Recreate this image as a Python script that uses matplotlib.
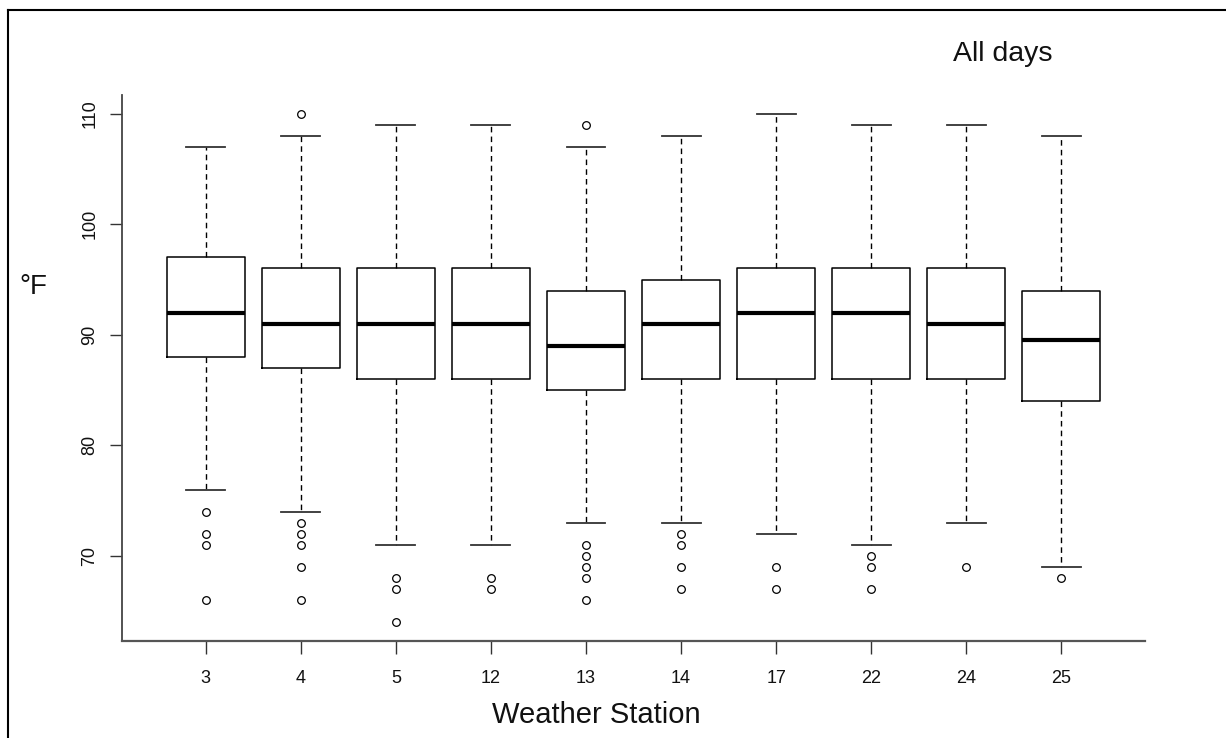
import matplotlib
matplotlib.use('Agg')
import matplotlib.pyplot as plt
from matplotlib.lines import Line2D

plt.rcParams['font.family'] = ['Liberation Sans', 'DejaVu Sans']

stations = ['3', '4', '5', '12', '13', '14', '17', '22', '24', '25']
whislo = [76, 74, 71, 71, 73, 73, 72, 71, 73, 69]
q1 = [88, 87, 86, 86, 85, 86, 86, 86, 86, 84]
med = [92, 91, 91, 91, 89, 91, 92, 92, 91, 89.5]
q3 = [97, 96, 96, 96, 94, 95, 96, 96, 96, 94]
whishi = [107, 108, 109, 109, 107, 108, 110, 109, 109, 108]
fliers = [
    [74, 72, 71, 66],
    [110, 73, 72, 71, 69, 66],
    [68, 67, 64],
    [68, 67],
    [109, 71, 70, 69, 68, 66],
    [72, 71, 69, 67],
    [69, 67],
    [70, 69, 67],
    [69],
    [68],
]

stats = []
for i in range(len(stations)):
    stats.append(dict(label=stations[i], whislo=whislo[i], q1=q1[i], med=med[i],
                      q3=q3[i], whishi=whishi[i], fliers=fliers[i]))

fig = plt.figure(figsize=(12.26, 7.38), dpi=100)
ax = fig.add_axes([0.0995, 0.1314, 0.8345, 0.74])

ax.bxp(stats, positions=range(1, 11), widths=0.82,
       boxprops=dict(color='black', linewidth=1.1),
       medianprops=dict(color='black', linewidth=3),
       whiskerprops=dict(color='black', linewidth=1, linestyle=(0, (4, 3))),
       capprops=dict(color='#333333', linewidth=1.3),
       capwidths=0.41,
       flierprops=dict(marker='o', markerfacecolor='none', markeredgecolor='black',
                       markersize=5.5, markeredgewidth=0.9))

ax.set_xlim(0.12, 10.88)
ax.set_ylim(62.3, 111.7)
ax.set_yticks([70, 80, 90, 100, 110])
ax.set_yticklabels(['70', '80', '90', '100', '110'], rotation=90, va='center')
ax.set_xticks(range(1, 11))
ax.set_xticklabels(stations)
ax.tick_params(axis='both', labelsize=13, length=9, width=1, color='#333333',
               labelcolor='#111111')
ax.tick_params(axis='y', pad=8)
ax.tick_params(axis='x', pad=12)

ax.spines['top'].set_visible(False)
ax.spines['right'].set_visible(False)
ax.spines['left'].set_color('#444444')
ax.spines['bottom'].set_color('#555555')
ax.spines['left'].set_linewidth(1.3)
ax.spines['bottom'].set_linewidth(1.6)

fig.text(596 / 1226, 1 - 715 / 738, 'Weather Station', fontsize=21,
         ha='center', va='center', color='#111111')
fig.text(33 / 1226, 1 - 287 / 738, '°F', fontsize=20,
         ha='center', va='center', color='#111111')
fig.text(1003 / 1226, 1 - 54 / 738, 'All days', fontsize=20.5,
         ha='center', va='center', color='#111111')

# frame around the picture (left and top edges only)
fig.add_artist(Line2D([8 / 1226, 8 / 1226], [0, 1 - 10 / 738], color='black',
                      linewidth=1.5, transform=fig.transFigure))
fig.add_artist(Line2D([8 / 1226, 1], [1 - 10 / 738, 1 - 10 / 738], color='black',
                      linewidth=1.5, transform=fig.transFigure))

fig.savefig('out.png', dpi=100)
